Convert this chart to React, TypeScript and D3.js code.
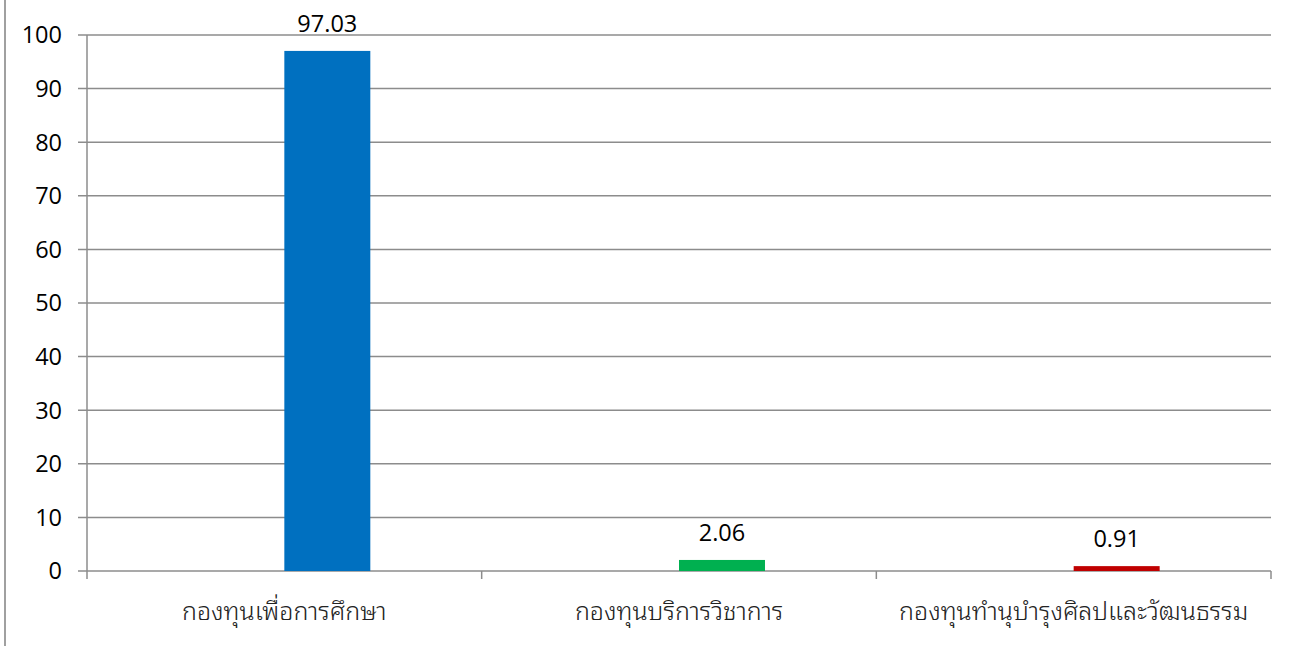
import React from "react";
import * as d3 from "d3";

const categories = [
  "กองทุนเพื่อการศึกษา",
  "กองทุนบริการวิชาการ",
  "กองทุนทำนุบำรุงศิลปและวัฒนธรรม",
];
const seriesNames = ["blank", "percent"];
const values = [97.03, 2.06, 0.91];
const barColors = ["#0070C0", "#00B050", "#C00000"];
const yTicks = [0, 10, 20, 30, 40, 50, 60, 70, 80, 90, 100];
const valueLabels = ["97.03", "2.06", "0.91"];

const W = 1295;
const H = 646;
const plot = { left: 87, right: 1271, top: 35, bottom: 571 };
const gridColor = "#8c8c8c";
const numFont = "'Open Sans', 'Noto Sans', sans-serif";
const thaiFont = "'Noto Sans Thai Looped', 'Noto Serif Thai', Tahoma, 'Noto Sans Thai', 'Noto Sans', sans-serif";

export default function App() {
  const x = d3
    .scaleBand<string>()
    .domain(categories)
    .range([plot.left, plot.right])
    .paddingInner(0)
    .paddingOuter(0);
  const inner = d3
    .scaleBand<string>()
    .domain(seriesNames)
    .range([0, x.bandwidth()])
    .paddingInner(0)
    .paddingOuter(1.295);
  const y = d3.scaleLinear().domain([0, 100]).range([plot.bottom, plot.top]);

  return (
    <svg
      width={W}
      height={H}
      style={{ position: "absolute", left: 0, top: 0, display: "block", background: "#fff" }}
    >
      <line x1={5} x2={5} y1={0} y2={H} stroke="#a0a0a0" strokeWidth={2} />
      {yTicks.map((t) => (
        <g key={t}>
          <line
            x1={plot.left - 9}
            x2={plot.right}
            y1={y(t)}
            y2={y(t)}
            stroke={gridColor}
            strokeWidth={1.5}
          />
          <text
            x={62}
            y={y(t)}
            dy="0.36em"
            textAnchor="end"
            fontFamily={numFont}
            fontSize={23.5}
            fill="#000"
          >
            {t}
          </text>
        </g>
      ))}
      <line
        x1={plot.left}
        x2={plot.left}
        y1={plot.top}
        y2={plot.bottom + 8}
        stroke={gridColor}
        strokeWidth={1.5}
      />
      {categories.map((c) => (
        <line
          key={"tk" + c}
          x1={(x(c) as number) + x.bandwidth()}
          x2={(x(c) as number) + x.bandwidth()}
          y1={plot.bottom}
          y2={plot.bottom + 8}
          stroke={gridColor}
          strokeWidth={1.5}
        />
      ))}
      {categories.map((c, i) => {
        const bx = (x(c) as number) + (inner("percent") as number);
        const bw = inner.bandwidth();
        return (
          <g key={c}>
            <rect
              x={bx}
              y={y(values[i])}
              width={bw}
              height={y(0) - y(values[i])}
              fill={barColors[i]}
            />
            <text
              x={bx + bw / 2}
              y={y(values[i]) - 19}
              textAnchor="middle"
              fontFamily={numFont}
              fontSize={23.5}
              fill="#000"
            >
              {valueLabels[i]}
            </text>
            <text
              x={(x(c) as number) + x.bandwidth() / 2}
              y={620}
              textAnchor="middle"
              fontFamily={thaiFont}
              fontSize={25}
              fontWeight={300}
              fill="#222"
            >
              {c}
            </text>
          </g>
        );
      })}
    </svg>
  );
}
